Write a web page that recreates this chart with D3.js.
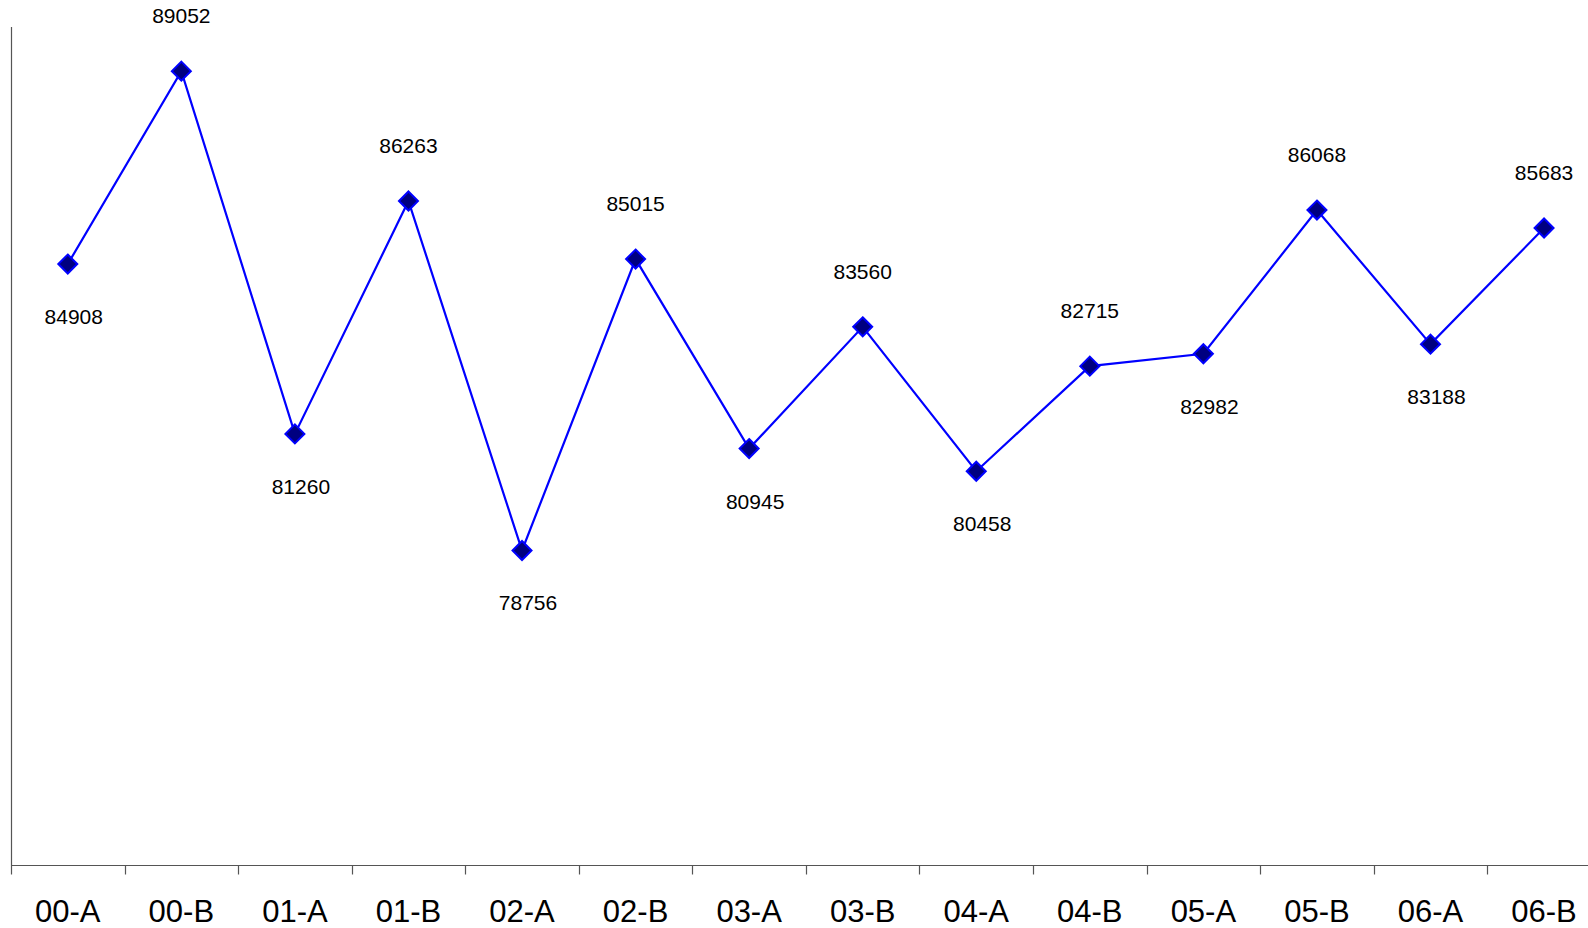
<!DOCTYPE html>
<html>
<head>
<meta charset="utf-8">
<script src="https://cdn.jsdelivr.net/npm/d3@7"></script>
<style>
  html, body { margin: 0; padding: 0; background: #fff; }
  svg { display: block; font-family: "Liberation Sans", Arial, sans-serif; }
</style>
</head>
<body>
<svg id="chart" width="1588" height="928"></svg>
<script>
const categories = ["00-A","00-B","01-A","01-B","02-A","02-B","03-A","03-B","04-A","04-B","05-A","05-B","06-A","06-B"];
const values = [84908, 89052, 81260, 86263, 78756, 85015, 80945, 83560, 80458, 82715, 82982, 86068, 83188, 85683];
const yDomain = [72000, 90000];

(function () {
const svg = d3.select("#chart");
const W = 1588;
const mLeft = 11, mTop = 27, mBottom = 865;
const step = 113.56;

const x = d3.scaleBand().domain(categories).range([mLeft, mLeft + step * categories.length]).padding(0);
const y = d3.scaleLinear().domain(yDomain).range([mBottom, mTop]);

const axisColor = "#555";

// y axis line
svg.append("line")
  .attr("x1", mLeft + 0.5).attr("x2", mLeft + 0.5)
  .attr("y1", y(yDomain[1])).attr("y2", y(yDomain[0]))
  .attr("stroke", axisColor).attr("stroke-width", 1.2);

// x axis
const xAxis = svg.append("g").attr("transform", `translate(0,${mBottom})`);
xAxis.append("line")
  .attr("x1", mLeft).attr("x2", W)
  .attr("y1", 0.5).attr("y2", 0.5)
  .attr("stroke", axisColor).attr("stroke-width", 1.2);
const boundaries = categories.map(c => x(c));
xAxis.selectAll("line.tick").data(boundaries).enter().append("line")
  .attr("class", "tick")
  .attr("x1", d => Math.round(d) + 0.5).attr("x2", d => Math.round(d) + 0.5)
  .attr("y1", 0).attr("y2", 9.5)
  .attr("stroke", axisColor).attr("stroke-width", 1.2);
xAxis.selectAll("text").data(categories).enter().append("text")
  .attr("x", d => x(d) + x.bandwidth() / 2)
  .attr("y", 57)
  .attr("text-anchor", "middle")
  .attr("font-size", 31)
  .attr("fill", "#000")
  .text(d => d);

const data = categories.map((c, i) => ({ c, v: values[i] }));
const cx = d => x(d.c) + x.bandwidth() / 2;

// line
svg.append("path")
  .datum(data)
  .attr("fill", "none")
  .attr("stroke", "#0000FF")
  .attr("stroke-width", 2.2)
  .attr("d", d3.line().x(cx).y(d => y(d.v)));

// markers
const r = 9.5;
svg.selectAll("path.marker").data(data).enter().append("path")
  .attr("class", "marker")
  .attr("transform", d => `translate(${cx(d)},${y(d.v)})`)
  .attr("d", `M0,${-r}L${r},0L0,${r}L${-r},0Z`)
  .attr("fill", "#000080")
  .attr("stroke", "#0000FF")
  .attr("stroke-width", 2);

// data labels: "A" periods below, "B" periods above
svg.selectAll("text.lbl").data(data).enter().append("text")
  .attr("class", "lbl")
  .attr("x", d => cx(d) + (d.c.endsWith("A") ? 6 : 0))
  .attr("y", d => y(d.v) + (d.c.endsWith("A") ? 60 : -48))
  .attr("text-anchor", "middle")
  .attr("font-size", 21)
  .attr("fill", "#000")
  .text(d => d.v);
})();
</script>
</body>
</html>
